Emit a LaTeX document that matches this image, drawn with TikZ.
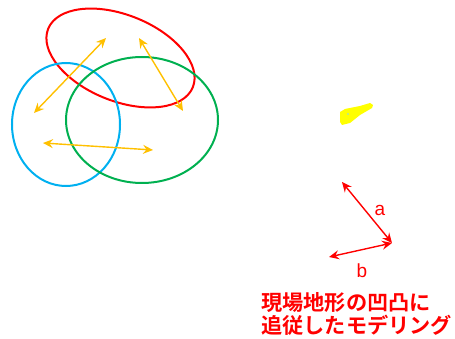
\documentclass[tikz,border=0pt]{standalone}
\usepackage{fontspec}
\newfontfamily\cjk{Noto Sans CJK JP Bold}
\setsansfont{Liberation Sans}
\usetikzlibrary{arrows.meta}
\definecolor{ored}{RGB}{255,0,0}
\definecolor{oblue}{RGB}{0,176,240}
\definecolor{ogreen}{RGB}{0,176,80}
\definecolor{oorange}{RGB}{255,192,0}
\definecolor{oyellow}{RGB}{255,255,0}
\begin{document}
\begin{tikzpicture}[x=1pt,y=-1pt,
  ring/.style={line width=2pt},
  darr/.style={line width=1.4pt,{Stealth[length=10pt,width=9pt,inset=3.5pt]}-{Stealth[length=10pt,width=9pt,inset=3.5pt]}},
  lbl/.style={font=\sffamily\fontsize{19}{19}\selectfont,text=ored,inner sep=0pt}]
\useasboundingbox (0,0) rectangle (455,339);
% ellipses
\draw[ring,ored,rotate around={-22:(120.5,58)}] (120.5,58) ellipse [x radius=78,y radius=43];
\draw[ring,oblue] (66,124.5) ellipse [x radius=54,y radius=61.5];
\draw[ring,ogreen] (142,120) ellipse [x radius=76,y radius=63];
% orange arrows
\coordinate (o1a) at (34,113); \coordinate (o1b) at (106,38);
\coordinate (o2a) at (139,38); \coordinate (o2b) at (183,111);
\coordinate (o3a) at (43,143); \coordinate (o3b) at (153,150);
\draw[darr,oorange] (o1a) -- (o1b);
\draw[darr,oorange] (o2a) -- (o2b);
\draw[darr,oorange] (o3a) -- (o3b);
% yellow blob
\fill[oyellow] (340,112) -- (345,109) -- (360,106) -- (370,103) -- (373,105) -- (372,108) -- (360,115) -- (350,123) -- (342,125) -- (340,122) -- cycle;
\fill[oblue!50] (348,114) circle (0.8);
% red arrows
\coordinate (ra) at (342,182);
\coordinate (rc) at (392,243);
\coordinate (rb) at (329,257);
\draw[darr,ored] (ra) -- (rc);
\draw[darr,ored] (rc) -- (rb);
\node[lbl] (la) at (380,210) {a};
\node[lbl] (lb) at (362,271) {b};
% caption
\node[anchor=north west,inner sep=0pt,text=ored,align=left,font=\cjk\fontsize{21.2}{23.5}\selectfont] (cap) at (261,292) {現場地形の凹凸に\\追従したモデリング};
\end{tikzpicture}
\end{document}
